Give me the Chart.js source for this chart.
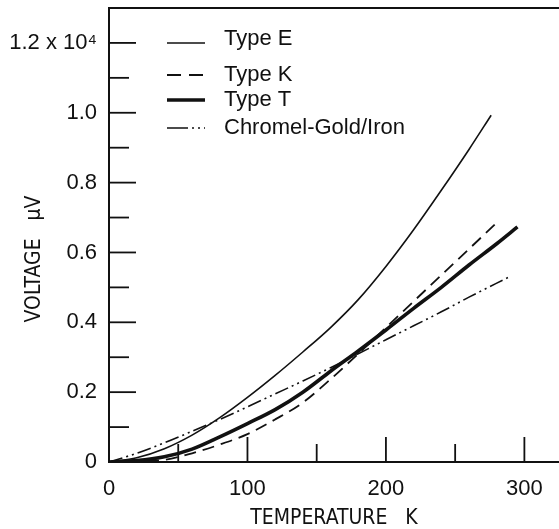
<!DOCTYPE html>
<html><head><meta charset="utf-8">
<script src="https://cdn.jsdelivr.net/npm/chart.js@4/dist/chart.umd.min.js"></script>
<style>html,body{margin:0;padding:0;background:#fff;}canvas{display:block;}</style>
</head><body>
<canvas id="c" width="559" height="529"></canvas>
<script>
// ---- data ----
const seriesLabels = ['Type E', 'Type K', 'Type T', 'Chromel-Gold/Iron'];
const tempE = [0, 20, 40, 60, 80, 100, 120, 140, 160, 180, 200, 220, 240, 260, 276];
const voltE = [0, 0.012, 0.038, 0.077, 0.127, 0.185, 0.248, 0.315, 0.385, 0.465, 0.56, 0.665, 0.778, 0.895, 0.993];
const tempK = [0, 20, 40, 60, 80, 100, 120, 140, 160, 180, 200, 220, 240, 260, 280];
const voltK = [0, 0.002, 0.006, 0.025, 0.05, 0.08, 0.122, 0.17, 0.237, 0.31, 0.385, 0.46, 0.535, 0.61, 0.685];
const tempT = [0, 20, 40, 60, 80, 100, 120, 140, 160, 180, 200, 220, 240, 260, 280, 295];
const voltT = [0, 0.004, 0.015, 0.037, 0.072, 0.11, 0.15, 0.2, 0.26, 0.318, 0.378, 0.44, 0.5, 0.564, 0.625, 0.673];
const tempC = [0, 20, 40, 60, 80, 100, 120, 140, 160, 180, 200, 220, 240, 260, 289];
const voltC = [0, 0.025, 0.055, 0.088, 0.122, 0.158, 0.195, 0.232, 0.27, 0.31, 0.35, 0.39, 0.43, 0.472, 0.53];
const xTickLabels = [0, 100, 200, 300];
const xMinorTicks = [50, 150, 250];
const yTickValues = [0, 0.2, 0.4, 0.6, 0.8, 1.0, 1.2];
const yTickLabels = ['0', '0.2', '0.4', '0.6', '0.8', '1.0', '1.2 x 10\u2074'];
const yMinorTicks = [0.1, 0.3, 0.5, 0.7, 0.9, 1.1];
const xTitle = 'TEMPERATURE   K';
const yTitle = 'VOLTAGE   \u00B5V';

const pts = (xs, ys) => xs.map((x, i) => ({x: x, y: ys[i]}));
const styles = [
  {borderWidth: 1.6, borderDash: []},
  {borderWidth: 1.8, borderDash: [12, 7]},
  {borderWidth: 3.6, borderDash: []},
  {borderWidth: 1.6, borderDash: [14, 4, 2, 4, 2, 4]}
];
const seriesData = [pts(tempE, voltE), pts(tempK, voltK), pts(tempT, voltT), pts(tempC, voltC)];
const legendDash = [[], [14, 8], [], [21, 4, 2, 4, 2, 4]];

const FONT = "'Liberation Sans', Arial, sans-serif";
const NARROW = "'Liberation Sans Narrow', 'Arial Narrow', 'DejaVu Sans Condensed', sans-serif";

const ticksPlugin = {
  id: 'inTicks',
  afterDraw(chart) {
    const ctx = chart.ctx, a = chart.chartArea;
    const xs = chart.scales.x, ys = chart.scales.y;
    ctx.save();
    ctx.strokeStyle = '#111';
    ctx.lineWidth = 2;
    ctx.beginPath();
    ctx.moveTo(a.left - 1, a.top); ctx.lineTo(a.right, a.top);
    ctx.stroke();
    ctx.lineWidth = 1.8;
    const draw = (x1, y1, x2, y2) => { ctx.beginPath(); ctx.moveTo(x1, y1); ctx.lineTo(x2, y2); ctx.stroke(); };
    xTickLabels.filter(v => v > 0).forEach(v => { const p = xs.getPixelForValue(v); draw(p, a.bottom, p, a.bottom - 25); });
    xMinorTicks.forEach(v => { const p = xs.getPixelForValue(v); draw(p, a.bottom, p, a.bottom - 18); });
    yTickValues.filter(v => v > 0).forEach(v => { const p = ys.getPixelForValue(v); draw(a.left, p, a.left + 27, p); });
    yMinorTicks.forEach(v => { const p = ys.getPixelForValue(v); draw(a.left, p, a.left + 20, p); });
    // legend
    const rows = [31, 67, 92, 120];
    chart.data.datasets.forEach((ds, i) => {
      const y = a.top + rows[i];
      ctx.lineWidth = ds.borderWidth;
      ctx.setLineDash(legendDash[i]);
      draw(a.left + 58, y + (i === 0 ? 4 : 0), a.left + 96, y + (i === 0 ? 4 : 0));
      ctx.setLineDash([]);
      ctx.fillStyle = '#111';
      ctx.font = '22px ' + FONT;
      ctx.textBaseline = 'middle';
      ctx.textAlign = 'left';
      ctx.fillText(ds.label, a.left + 115, y);
    });
    ctx.restore();
  }
};

new Chart(document.getElementById('c'), {
  type: 'line',
  data: {
    datasets: seriesLabels.map((lab, i) => ({
      label: lab,
      data: seriesData[i],
      borderColor: '#111',
      borderWidth: styles[i].borderWidth,
      borderDash: styles[i].borderDash,
      pointRadius: 0,
      fill: false,
      cubicInterpolationMode: 'monotone'
    }))
  },
  options: {
    responsive: false,
    animation: false,
    layout: {padding: {top: 8, right: 0, left: 0, bottom: 0}},
    plugins: {legend: {display: false}, tooltip: {enabled: false}},
    scales: {
      x: {
        type: 'linear', min: 0, max: 325,
        afterFit: s => { s.height = 67; s.paddingLeft = 0; s.paddingRight = 0; },
        grid: {drawOnChartArea: false, drawTicks: false},
        border: {display: true, color: '#111', width: 2},
        afterBuildTicks: s => { s.ticks = xTickLabels.map(v => ({value: v})); },
        ticks: {
          color: '#111', padding: 14, maxRotation: 0, autoSkip: false,
          font: {family: FONT, size: 22, lineHeight: 1.2},
          callback: v => String(v)
        },
        title: {display: true, text: xTitle, color: '#111', padding: {top: 0, bottom: 0},
          font: {family: NARROW, size: 21, lineHeight: 1}}
      },
      y: {
        type: 'linear', min: 0, max: 1.3,
        afterFit: s => { s.width = 109; s.paddingTop = 0; s.paddingBottom = 0; },
        grid: {drawOnChartArea: false, drawTicks: false},
        border: {display: true, color: '#111', width: 2},
        afterBuildTicks: s => { s.ticks = yTickValues.map(v => ({value: v})); },
        ticks: {
          color: '#111', padding: 12, autoSkip: false,
          font: {family: FONT, size: 22, lineHeight: 1.2},
          callback: (v, i) => yTickLabels[i]
        },
        title: {display: true, text: yTitle + '        ', color: '#111', padding: {top: 24, bottom: 0},
          font: {family: NARROW, size: 21, lineHeight: 1}}
      }
    }
  },
  plugins: [ticksPlugin]
});
</script>
</body></html>
